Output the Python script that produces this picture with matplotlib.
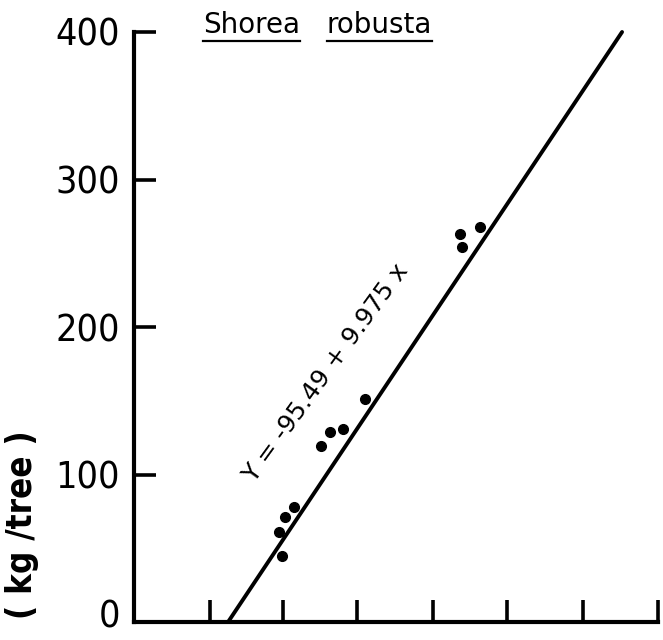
import numpy as np
import matplotlib
matplotlib.use('Agg')
import matplotlib.pyplot as plt
import matplotlib.transforms as mtransforms
from matplotlib import rcParams

rcParams['font.family'] = ['DejaVu Sans']
rcParams['font.stretch'] = 'condensed'

# regression of biomass on girth, Shorea robusta
intercept = -95.49
slope = 9.975
eq_label = 'Y = -95.49 + 9.975 x'
species = ['Shorea', 'robusta']

# observed trees
obs_x = [15.1, 14.8, 15.4, 16.3, 19.0, 19.9, 21.3, 23.5, 33.2, 33.4, 35.2]
obs_y = [45, 61, 71, 78, 119, 129, 131, 151, 263, 254, 268]

y_ticks = [0, 100, 200, 300, 400]
x_ticks = [7.7, 15.2, 22.7, 30.4, 38.0, 45.7, 53.3]

fig = plt.figure(figsize=(6.63, 6.4), dpi=100)
ax = fig.add_axes([0.2021, 0.0281, 0.9920 - 0.2021, 0.95 - 0.0281])

line_y = np.array([0, 400])
line_x = (line_y - intercept) / slope
ax.plot(line_x, line_y, c='k', lw=2.8, solid_capstyle='round', clip_on=False)
ax.plot(obs_x, obs_y, c='k', ls='none', marker='o', markersize=7)

ax.set_xlim(0, 53.3)
ax.set_ylim(0, 400)
ax.set_xticks(x_ticks)
ax.set_xticklabels([])
ax.set_yticks(y_ticks)
ax.set_yticklabels([str(v) for v in y_ticks], fontsize=27)
ax.tick_params(axis='both', direction='in', length=16, width=2.6, pad=10)
for s in ['top', 'right']:
	ax.spines[s].set_visible(False)
for s in ['left', 'bottom']:
	ax.spines[s].set_linewidth(3)
	ax.spines[s].set_capstyle('projecting')
# the zero label sits on the baseline, nudged down a touch
zero_lab = ax.get_yticklabels()[0]
zero_lab.set_va('baseline')
zero_lab.set_transform(zero_lab.get_transform() +
	mtransforms.ScaledTranslation(0, -4 / 72, fig.dpi_scale_trans))

ax.text(19.5, 168.8, eq_label, rotation=54, ha='center', va='center',
	fontsize=18, fontstretch='normal', rotation_mode='anchor')

fig.text(0.033, 0.180, '( kg /tree )', rotation=90, ha='center', va='center',
	fontsize=25, fontweight='bold')

title_parts = []
title_parts.append(fig.text(0.306, 0.949, species[0], fontsize=20, va='baseline', ha='left',
	fontstretch='normal'))
title_parts.append(fig.text(0.493, 0.949, species[1], fontsize=20, va='baseline', ha='left',
	fontstretch='normal'))

# underline each word of the species name
fig.canvas.draw()
r = fig.canvas.get_renderer()
for t in title_parts:
	bb = t.get_window_extent(r).transformed(fig.transFigure.inverted())
	fig.add_artist(plt.Line2D([bb.x0, bb.x1], [0.936, 0.936], color='k', lw=1.6,
		transform=fig.transFigure))

fig.savefig('out.png', dpi=100)
